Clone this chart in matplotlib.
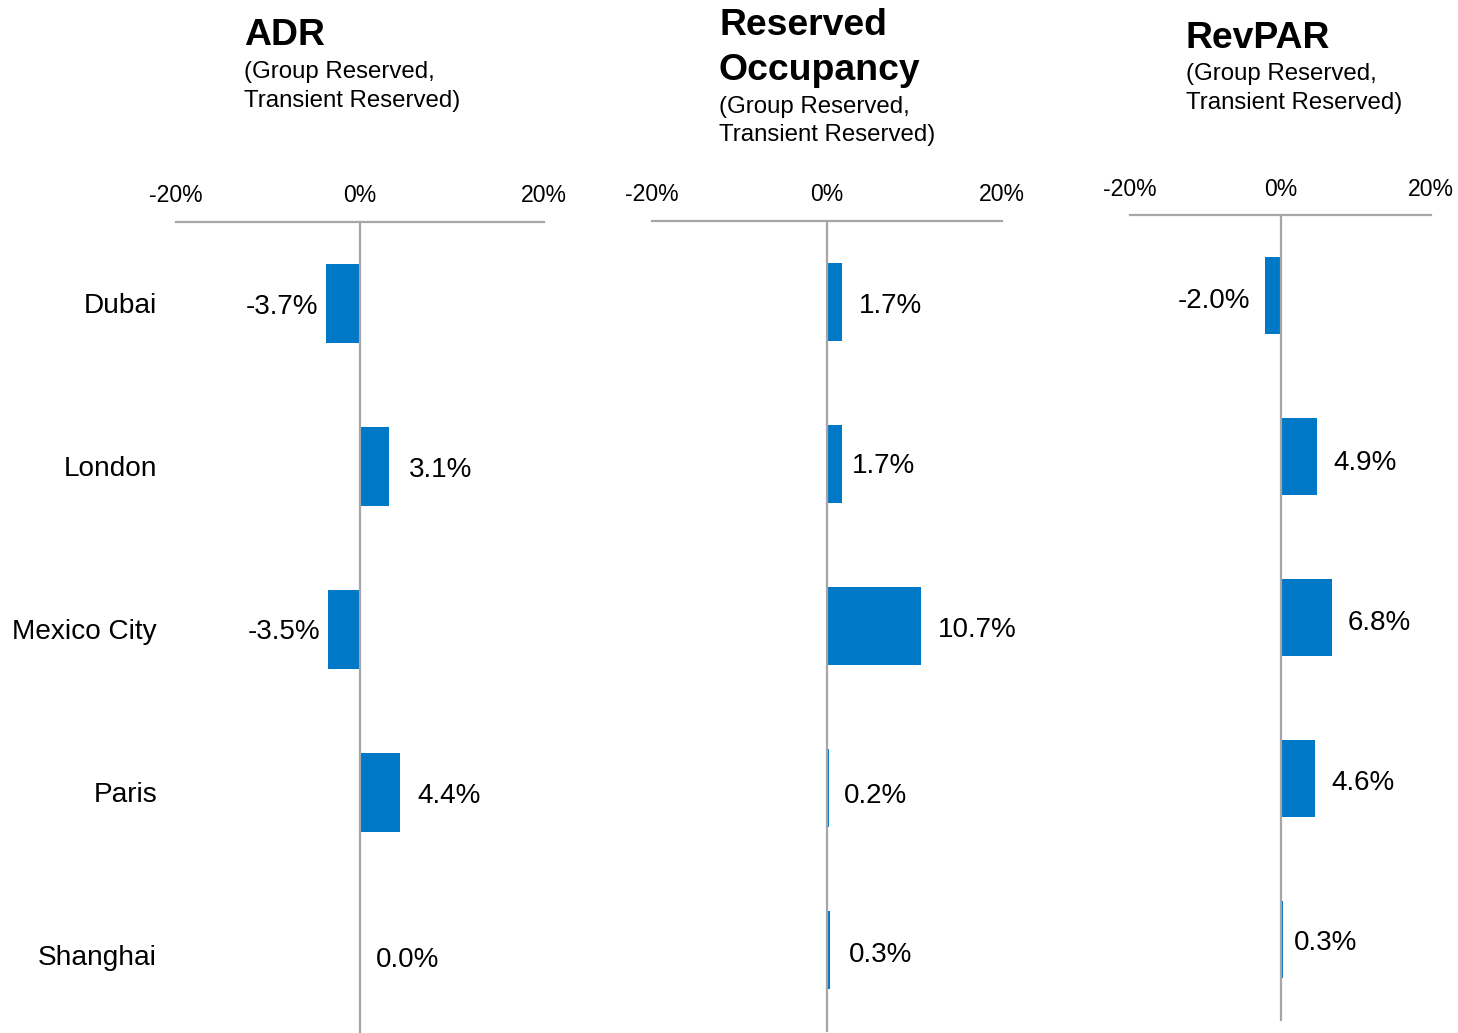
import matplotlib
matplotlib.use('Agg')
import matplotlib.pyplot as plt
from matplotlib.transforms import blended_transform_factory

plt.rcParams['font.family'] = ['Liberation Sans', 'DejaVu Sans']

# ---------------- data ----------------
cities = ["Dubai", "London", "Mexico City", "Paris", "Shanghai"]
adr = [-3.7, 3.1, -3.5, 4.4, 0.0]
occupancy = [1.7, 1.7, 10.7, 0.2, 0.3]
revpar = [-2.0, 4.9, 6.8, 4.6, 0.3]
tick_values = [-20, 0, 20]
tick_labels = ["-20%", "0%", "20%"]
titles = [["ADR"], ["Reserved", "Occupancy"], ["RevPAR"]]
subtitle = ["(Group Reserved,", "Transient Reserved)"]

# ---------------- style ----------------
W, H = 1458, 1033
BAR_COLOR = '#0078C8'
LINE_COLOR = '#A6A6A6'
VAL_FS = 20
CAT_FS = 20.2
TICK_FS = 16.6
TITLE_FS = 26.9
SUB_FS = 17.3

fig = plt.figure(figsize=(W / 100, H / 100), dpi=100)


def px_rect(x0, x1, top, bottom):
    return [x0 / W, 1 - bottom / H, (x1 - x0) / W, (bottom - top) / H]


def fx(x):
    return x / W


def fy(y):
    return 1 - y / H


panels = [
    dict(values=adr, rect=(176, 544, 222, 1037), gaps=[8, 20, 7, 17, 16],
         dy=[1, 1, 0, 1, 2],
         title_x=244, title_bl=[45], sub_bl=[78, 107], pad=11),
    dict(values=occupancy, rect=(652, 1002, 221, 1031), gaps=[17, 10, 17, 15, 19],
         dy=[1, -1, 1, 5, 2],
         title_x=719, title_bl=[35, 80], sub_bl=[113, 141], pad=11),
    dict(values=revpar, rect=(1130, 1431, 215, 1020), gaps=[15, 16, 16, 16, 11],
         dy=[2, 4, 2, 1, 1],
         title_x=1186, title_bl=[48], sub_bl=[80, 109], pad=10),
]

for i, p in enumerate(panels):
    x0, x1, top, bottom = p['rect']
    ax = fig.add_axes(px_rect(x0, x1, top, bottom))
    ypos = list(range(len(cities)))
    ax.barh(ypos, p['values'], height=0.48, color=BAR_COLOR, zorder=1)
    ax.set_xlim(-20, 20)
    ax.set_ylim(len(cities) - 0.5, -0.5)

    for s in ['bottom', 'right']:
        ax.spines[s].set_visible(False)
    ax.spines['top'].set_color(LINE_COLOR)
    ax.spines['top'].set_linewidth(1.6)
    ax.spines['left'].set_position(('data', 0))
    ax.spines['left'].set_color(LINE_COLOR)
    ax.spines['left'].set_linewidth(1.6)
    ax.spines['left'].set_zorder(3)

    ax.xaxis.tick_top()
    ax.set_xticks(tick_values)
    ax.set_xticklabels(tick_labels)
    ax.tick_params(axis='x', length=0, pad=p['pad'], labelsize=TICK_FS, labelcolor='black')
    ax.set_yticks([])
    ax.patch.set_alpha(0)

    # value labels
    for y, v, g, d in zip(ypos, p['values'], p['gaps'], p['dy']):
        off_y = -7.2 - d * 0.72
        if v < 0:
            ax.annotate(f"{v:.1f}%", xy=(v, y), xytext=(-g * 0.72, off_y),
                        textcoords='offset points', ha='right', va='baseline',
                        fontsize=VAL_FS, color='black')
        else:
            ax.annotate(f"{v:.1f}%", xy=(v, y), xytext=(g * 0.72, off_y),
                        textcoords='offset points', ha='left', va='baseline',
                        fontsize=VAL_FS, color='black')

    # category labels (first panel only)
    if i == 0:
        tr = blended_transform_factory(ax.transAxes, ax.transData)
        for y, c in zip(ypos, cities):
            ax.annotate(c, xy=((157 - x0) / (x1 - x0), y), xycoords=tr,
                        xytext=(0, -7.2), textcoords='offset points',
                        ha='right', va='baseline', fontsize=CAT_FS, color='black',
                        annotation_clip=False)

    # titles
    for line, bl in zip(titles[i], p['title_bl']):
        fig.text(fx(p['title_x']), fy(bl), line, fontsize=TITLE_FS, fontweight='bold',
                 ha='left', va='baseline', color='black')
    for line, bl in zip(subtitle, p['sub_bl']):
        fig.text(fx(p['title_x']), fy(bl), line, fontsize=SUB_FS,
                 ha='left', va='baseline', color='black')

fig.savefig('out.png', dpi=100, facecolor='white')
